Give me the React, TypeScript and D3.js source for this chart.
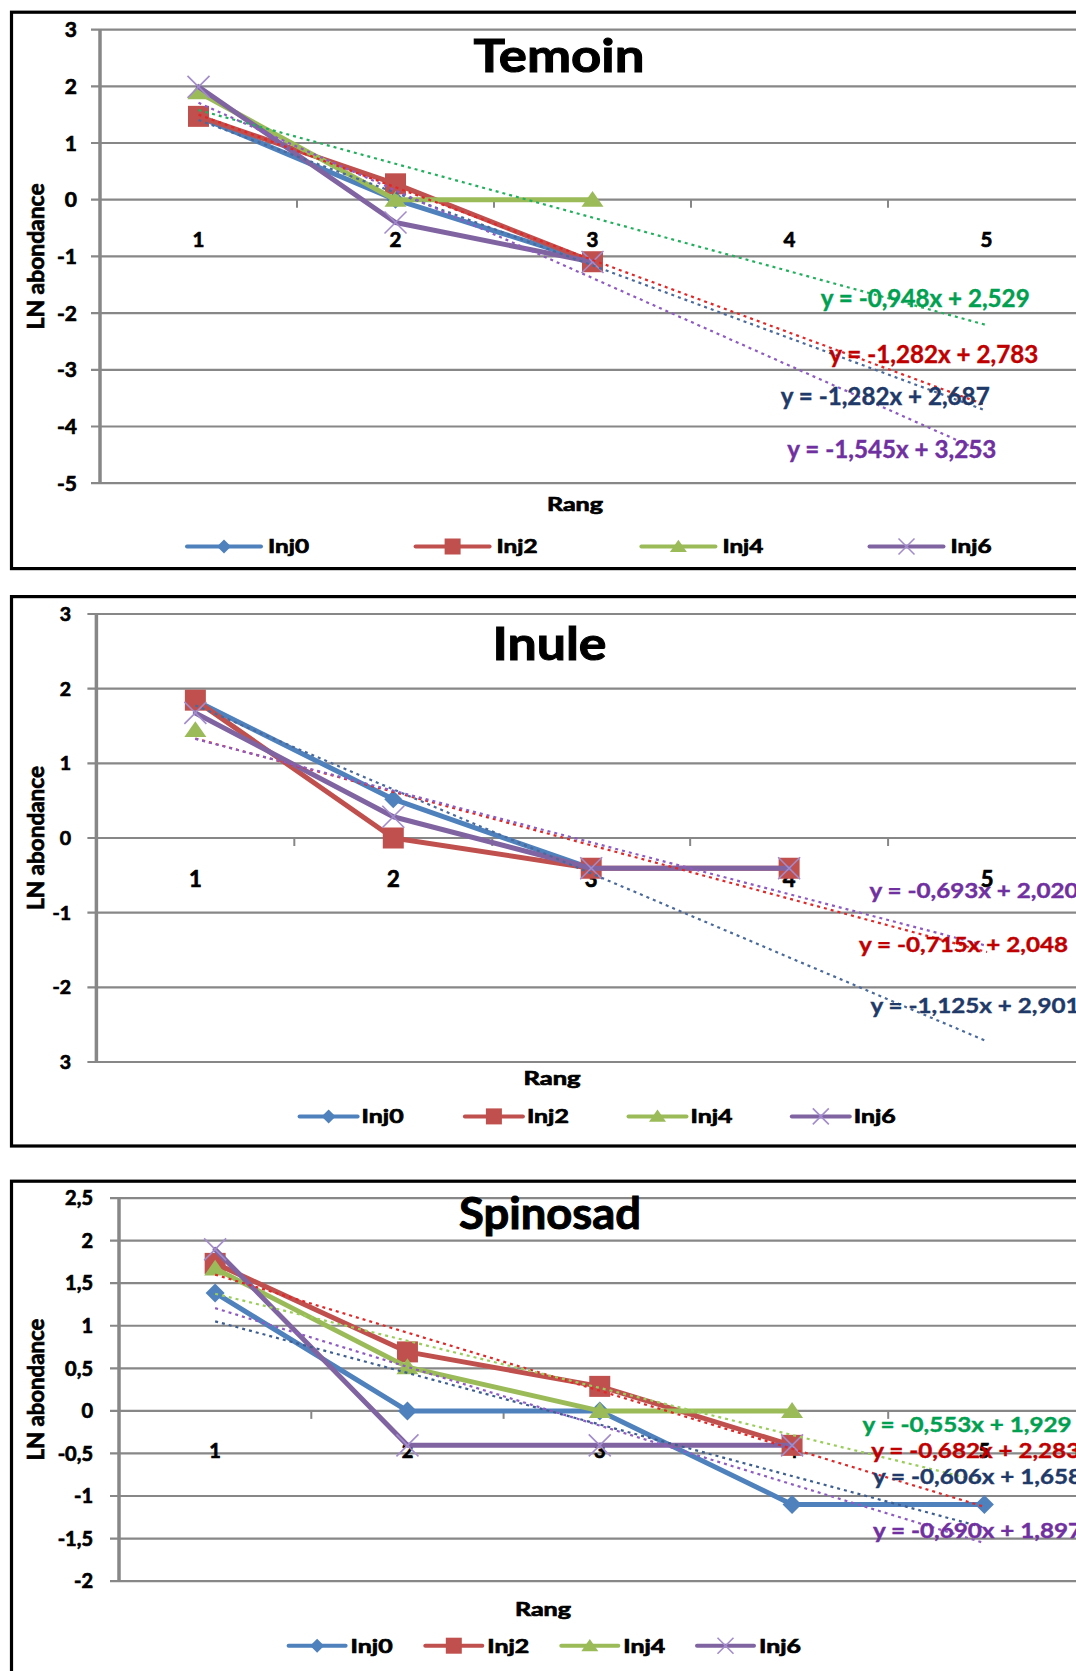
import React from "react";
import * as d3 from "d3";

// ---------- shared definitions ----------
const RANKS = [1, 2, 3, 4, 5];
const SERIES = ["Inj0", "Inj2", "Inj4", "Inj6"];
const SERIES_COLORS = ["#4F81BD", "#C0504D", "#9BBB59", "#8064A2"];
const MARKERS = ["diamond", "square", "triangle", "cross"];
const EQ_COLORS = ["#1F3A68", "#C00000", "#00A050", "#7030A0"];

// ---------- Temoin ----------
const temoinInj0 = [1.466, 0, -1.098];
const temoinInj2 = [1.47, 0.28, -1.094];
const temoinInj4 = [1.896, 0, 0];
const temoinInj6 = [1.991, -0.403, -1.099];
const temoinSlopes = [-1.282, -1.282, -0.948, -1.545];
const temoinIntercepts = [2.687, 2.783, 2.529, 3.253];
const temoinTicks = [3, 2, 1, 0, -1, -2, -3, -4, -5];
const temoinTickLabels = ["3", "2", "1", "0", "-1", "-2", "-3", "-4", "-5"];
const temoinTrendColors = ["#4A6A9C", "#E02828", "#22B05E", "#8D5BC1"];

// ---------- Inule ----------
const inuleInj0 = [1.842, 0.52, -0.408];
const inuleInj2 = [1.846, 0, -0.405, -0.405];
const inuleInj4 = [1.447];
const inuleInj6 = [1.675, 0.285, -0.405, -0.405];
const inuleSlopes = [-1.125, -0.715, null, -0.693];
const inuleIntercepts = [2.901, 2.048, null, 2.02];
const inuleTicks = [3, 2, 1, 0, -1, -2, -3];
const inuleTickLabels = ["3", "2", "1", "0", "-1", "-2", "3"];
const inuleTrendColors = ["#4A6A9C", "#E02828", "#22B05E", "#8D5BC1"];

// ---------- Spinosad ----------
const spinosadInj0 = [1.386, 0, 0, -1.099, -1.099];
const spinosadInj2 = [1.733, 0.693, 0.288, -0.405];
const spinosadInj4 = [1.672, 0.514, 0, 0];
const spinosadInj6 = [1.897, -0.405, -0.405, -0.405];
const spinosadSlopes = [-0.606, -0.682, -0.553, -0.69];
const spinosadIntercepts = [1.658, 2.283, 1.929, 1.897];
const spinosadTicks = [2.5, 2, 1.5, 1, 0.5, 0, -0.5, -1, -1.5, -2];
const spinosadTickLabels = ["2,5", "2", "1,5", "1", "0,5", "0", "-0,5", "-1", "-1,5", "-2"];
const spinosadTrendColors = ["#3D5E91", "#E02828", "#9ACD5A", "#8D5BC1"];

const FONT = "Lato, 'Open Sans', 'DejaVu Sans', sans-serif";
const GRID = "#878787";
const HEAVY = 700;
// extra outline that gives the bold captions their heavy look
const INK = { stroke: "#000", strokeWidth: 0.7 };

const fmt = (v: number) => v.toFixed(3).replace(".", ",");
const eqText = (m: number, b: number) => `y = ${fmt(m)}x + ${fmt(b)}`;

function Marker({ type, cx, cy, s, color }: any) {
  if (type === "diamond") {
    const h = s / 2;
    return <polygon points={`${cx},${cy - h} ${cx + h},${cy} ${cx},${cy + h} ${cx - h},${cy}`} fill={color} />;
  }
  if (type === "square") {
    return <rect x={cx - s / 2} y={cy - s / 2} width={s} height={s} fill={color} />;
  }
  if (type === "triangle") {
    return (
      <polygon
        points={`${cx},${cy - s * 0.4} ${cx + s / 2},${cy + s * 0.32} ${cx - s / 2},${cy + s * 0.32}`}
        fill={color}
      />
    );
  }
  const h = s / 2;
  return (
    <g stroke="#A28BCB" strokeWidth={1.6}>
      <line x1={cx - h} y1={cy - h} x2={cx + h} y2={cy + h} />
      <line x1={cx - h} y1={cy + h} x2={cx + h} y2={cy - h} />
    </g>
  );
}

function Chart({ cfg }: any) {
  const L = cfg.layout;
  const p = L.plot;
  const x = d3.scaleBand<number>().domain(RANKS).range([p.left, p.right]);
  const cx = (r: number) => (x(r) as number) + x.bandwidth() / 2;
  const y = d3.scaleLinear().domain(cfg.yDomain).range([p.bottom, p.top]);
  const y0 = y(0);
  const line = d3
    .line<number>()
    .x((_, i) => cx(RANKS[i]))
    .y((v) => y(v));

  return (
    <g>
      {/* frame */}
      <rect
        x={11.5}
        y={L.frame.top}
        width={1200}
        height={L.frame.bottom - L.frame.top}
        fill="#ffffff"
        stroke="#000"
        strokeWidth={3.2}
      />
      {/* gridlines */}
      {cfg.ticks.map((t: number) => (
        <line key={"g" + t} x1={p.left - 9} x2={p.right} y1={y(t)} y2={y(t)} stroke={GRID} strokeWidth={2.2} />
      ))}
      {/* value axis */}
      <line x1={p.left} x2={p.left} y1={p.top} y2={p.bottom} stroke={GRID} strokeWidth={3.5} />
      {/* category axis tick marks */}
      {RANKS.slice(1).map((r) => (
        <line key={"t" + r} x1={x(r)} x2={x(r)} y1={y0} y2={y0 + 8} stroke={GRID} strokeWidth={2} />
      ))}
      {/* value tick labels */}
      {cfg.ticks.map((t: number, i: number) => (
        <text
          key={"yl" + t}
          x={L.yTickRight}
          y={y(t) + L.yTickSize * 0.36}
          textAnchor="end"
          fontFamily={FONT}
          fontWeight={HEAVY}
          fontSize={L.yTickSize}
          fill="#000"
          {...INK}
        >
          {cfg.tickLabels[i]}
        </text>
      ))}
      {/* category labels */}
      {RANKS.map((r) => (
        <text
          key={"c" + r}
          x={cx(r)}
          y={L.catBaseline}
          textAnchor="middle"
          fontFamily={FONT}
          fontWeight={HEAVY}
          fontSize={L.catSize}
          fill="#000"
          {...INK}
        >
          {r}
        </text>
      ))}
      {/* series lines and markers */}
      {cfg.series.map((vals: number[], si: number) => (
        <g key={"s" + si}>
          {vals.length > 1 && (
            <path
              d={line(vals) as string}
              fill="none"
              stroke={SERIES_COLORS[si]}
              strokeWidth={5}
              strokeLinejoin="round"
              strokeLinecap="round"
            />
          )}
          {vals.map((v, i) => (
            <Marker
              key={i}
              type={MARKERS[si]}
              cx={cx(RANKS[i])}
              cy={y(v)}
              s={L.marker[si]}
              color={SERIES_COLORS[si]}
            />
          ))}
        </g>
      ))}
      {/* linear trend lines */}
      {cfg.slopes.map((m: number | null, si: number) =>
        m === null ? null : (
          <line
            key={"tr" + si}
            x1={cx(1)}
            y1={y(m * 1 + cfg.intercepts[si])}
            x2={cx(5)}
            y2={y(m * 5 + cfg.intercepts[si])}
            stroke={cfg.trendColors[si]}
            strokeWidth={2.2}
            strokeDasharray="3 4"
          />
        )
      )}
      {/* trend equations */}
      {cfg.slopes.map((m: number | null, si: number) =>
        m === null ? null : (
          <text
            key={"eq" + si}
            x={L.eq[si].x}
            y={L.eq[si].y}
            fontFamily={FONT}
            fontWeight={700}
            fontSize={L.eqSize}
            fill={EQ_COLORS[si]}
            stroke={EQ_COLORS[si]}
            strokeWidth={0.4}
            textLength={L.eqWidth}
            lengthAdjust="spacingAndGlyphs"
          >
            {eqText(m, cfg.intercepts[si])}
          </text>
        )
      )}
      {/* title */}
      <text
        x={L.title.x}
        y={L.title.y}
        textAnchor="middle"
        fontFamily={FONT}
        fontWeight={HEAVY}
        fontSize={L.title.size}
        textLength={L.title.width}
        lengthAdjust="spacingAndGlyphs"
        fill="#000"
        stroke="#000"
        strokeWidth={1}
      >
        {cfg.title}
      </text>
      {/* axis titles */}
      <text
        transform={`translate(44,${(p.top + p.bottom) / 2}) rotate(-90)`}
        textAnchor="middle"
        fontFamily={FONT}
        fontWeight={HEAVY}
        fontSize={22}
        textLength={L.yTitleLen}
        lengthAdjust="spacingAndGlyphs"
        fill="#000"
        {...INK}
      >
        LN abondance
      </text>
      <text
        x={L.xTitle.x}
        y={L.xTitle.y}
        textAnchor="middle"
        fontFamily={FONT}
        fontWeight={HEAVY}
        fontSize={18}
        textLength={L.xTitle.width}
        lengthAdjust="spacingAndGlyphs"
        fill="#000"
        {...INK}
      >
        Rang
      </text>
      {/* legend */}
      {SERIES.map((name, si) => {
        const lg = L.legend;
        const sx = lg.starts[si];
        return (
          <g key={"lg" + si}>
            <line
              x1={sx}
              x2={sx + lg.lineLen}
              y1={lg.y}
              y2={lg.y}
              stroke={SERIES_COLORS[si]}
              strokeWidth={4}
              strokeLinecap="round"
            />
            <Marker
              type={MARKERS[si]}
              cx={sx + lg.lineLen / 2}
              cy={lg.y}
              s={[14, 16, 17, 16][si]}
              color={SERIES_COLORS[si]}
            />
            <text
              x={sx + lg.lineLen + lg.gap}
              y={lg.y + 6.8}
              fontFamily={FONT}
              fontWeight={HEAVY}
              fontSize={19}
              textLength={lg.textW}
              lengthAdjust="spacingAndGlyphs"
              fill="#000"
              {...INK}
            >
              {name}
            </text>
          </g>
        );
      })}
    </g>
  );
}

const charts = [
  {
    title: "Temoin",
    series: [temoinInj0, temoinInj2, temoinInj4, temoinInj6],
    slopes: temoinSlopes,
    intercepts: temoinIntercepts,
    ticks: temoinTicks,
    tickLabels: temoinTickLabels,
    trendColors: temoinTrendColors,
    yDomain: [-5, 3],
    layout: {
      frame: { top: 12.2, bottom: 568.6 },
      plot: { left: 100, right: 1085, top: 29.6, bottom: 483.2 },
      title: { x: 559, y: 72, width: 171, size: 46 },
      yTickRight: 77,
      yTickSize: 21,
      catBaseline: 247.3,
      catSize: 20.5,
      yTitleLen: 146,
      xTitle: { x: 575, y: 511, width: 56 },
      legend: { y: 546.5, starts: [187, 415.6, 641.4, 869.5], lineLen: 74, gap: 7, textW: 41 },
      eq: [
        { x: 780.7, y: 405 },
        { x: 829.3, y: 362.7 },
        { x: 820.7, y: 306.7 },
        { x: 787.3, y: 458.3 },
      ],
      eqSize: 24,
      eqWidth: 209,
      marker: [18, 21, 22, 22],
    },
  },
  {
    title: "Inule",
    series: [inuleInj0, inuleInj2, inuleInj4, inuleInj6],
    slopes: inuleSlopes,
    intercepts: inuleIntercepts,
    ticks: inuleTicks,
    tickLabels: inuleTickLabels,
    trendColors: inuleTrendColors,
    yDomain: [-3, 3],
    layout: {
      frame: { top: 596.6, bottom: 1146 },
      plot: { left: 96.4, right: 1086, top: 614, bottom: 1062 },
      title: { x: 549.5, y: 659.5, width: 114, size: 46 },
      yTickRight: 71,
      yTickSize: 19.5,
      catBaseline: 887,
      catSize: 22,
      yTitleLen: 144,
      xTitle: { x: 552, y: 1085, width: 57 },
      legend: { y: 1116.4, starts: [299.6, 464.9, 628.5, 791.8], lineLen: 58, gap: 4, textW: 42 },
      eq: [
        { x: 870.5, y: 1013 },
        { x: 859, y: 952 },
        null,
        { x: 869.5, y: 898 },
      ],
      eqSize: 21,
      eqWidth: 209,
      marker: [18, 21, 22, 22],
    },
  },
  {
    title: "Spinosad",
    series: [spinosadInj0, spinosadInj2, spinosadInj4, spinosadInj6],
    slopes: spinosadSlopes,
    intercepts: spinosadIntercepts,
    ticks: spinosadTicks,
    tickLabels: spinosadTickLabels,
    trendColors: spinosadTrendColors,
    yDomain: [-2, 2.5],
    layout: {
      frame: { top: 1181.2, bottom: 1720 },
      plot: { left: 119, right: 1080.5, top: 1198.1, bottom: 1581.1 },
      title: { x: 550, y: 1229, width: 182, size: 44 },
      yTickRight: 93,
      yTickSize: 20,
      catBaseline: 1458,
      catSize: 20,
      yTitleLen: 142,
      xTitle: { x: 543, y: 1616, width: 56 },
      legend: { y: 1645.7, starts: [288.6, 425.3, 561.3, 697], lineLen: 57, gap: 5, textW: 42 },
      eq: [
        { x: 873, y: 1484.3 },
        { x: 871.2, y: 1458 },
        { x: 862.5, y: 1432 },
        { x: 873, y: 1538 },
      ],
      eqSize: 20,
      eqWidth: 209,
      marker: [19, 21, 22, 22],
    },
  },
];

export default function App() {
  return (
    <div style={{ position: "absolute", left: 0, top: 0 }}>
      <svg width={1076} height={1671} style={{ display: "block", background: "#ffffff" }}>
        <rect x={0} y={0} width={1076} height={1671} fill="#ffffff" />
        {charts.map((c) => (
          <Chart key={c.title} cfg={c} />
        ))}
      </svg>
    </div>
  );
}
